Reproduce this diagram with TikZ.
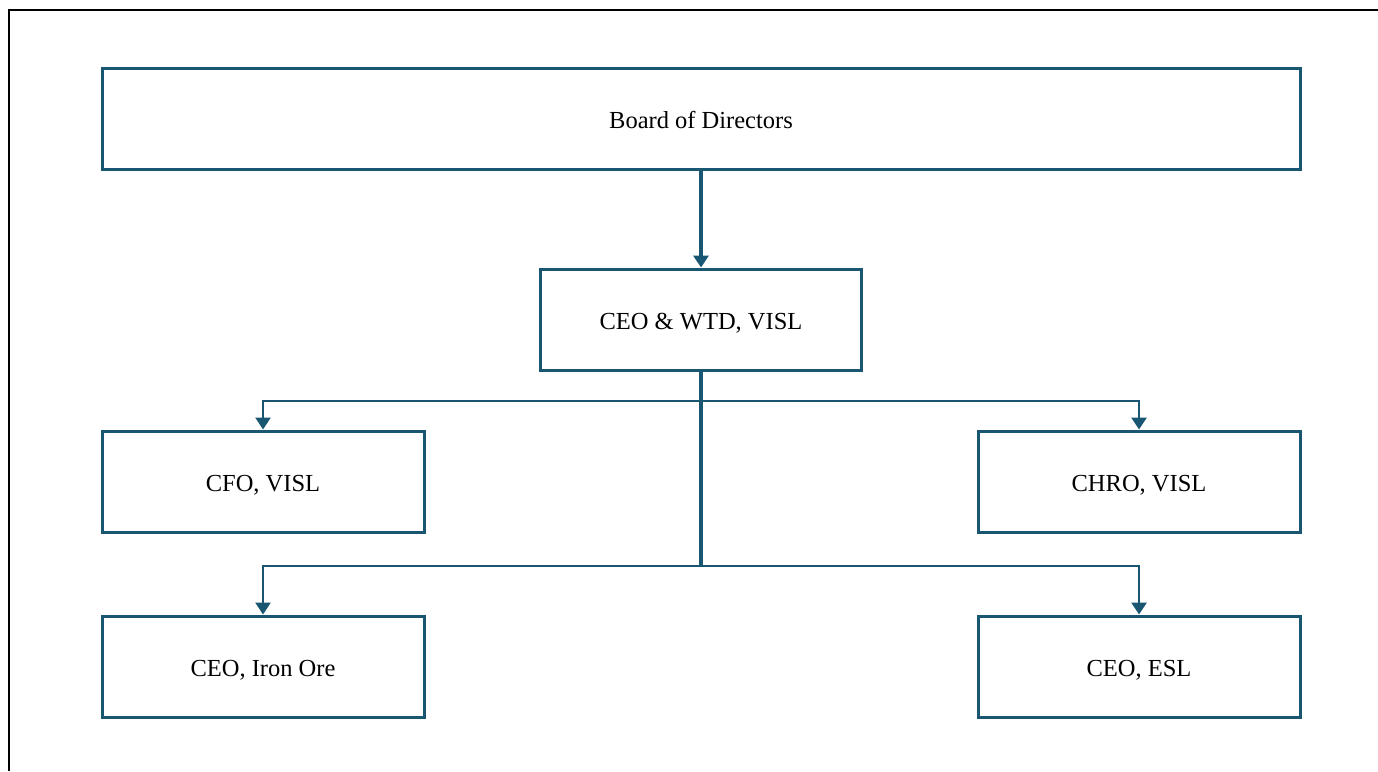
\documentclass[tikz,border=0pt]{standalone}
\usepackage{fontspec}
\setmainfont{Liberation Serif}
\usetikzlibrary{arrows.meta}
\definecolor{teal}{RGB}{24,86,114}
\tikzset{
  box/.style={draw=teal, line width=3pt, fill=white, inner sep=0pt, text height=20.5pt, text depth=0pt, font=\fontsize{24.5}{28}\selectfont},
  conn/.style={draw=teal, line width=2.8pt},
  trunk/.style={draw=teal, line width=4.2pt},
  tip/.style={-{Triangle[length=12pt,width=15pt]}}
}
\begin{document}
\begin{tikzpicture}[x=1pt,y=-1pt]
\useasboundingbox (0,0) rectangle (1378,771);
\draw[black, line width=1.2pt] (1378,10) -- (9,10) -- (9,771);
\node[box, minimum width=1198pt, minimum height=101pt] (bod) at (701,118.5) {Board of Directors};
\node[box, minimum width=321pt, minimum height=101pt] (ceo) at (701,319.5) {CEO \& WTD, VISL};
\node[box, minimum width=322pt, minimum height=101pt] (cfo) at (263,481.5) {CFO, VISL};
\node[box, minimum width=322pt, minimum height=101pt] (chro) at (1139,481.5) {CHRO, VISL};
\node[box, minimum width=322pt, minimum height=101pt] (iron) at (263,666.5) {CEO, Iron Ore};
\node[box, minimum width=322pt, minimum height=101pt] (esl) at (1139,666.5) {CEO, ESL};
\coordinate (j1) at (701,401);
\coordinate (j2) at (701,566);
\draw[trunk, tip] (bod.south) -- (ceo.north);
\draw[conn, tip] (j1) -| (cfo.north);
\draw[conn, tip] (j1) -| (chro.north);
\draw[conn, tip] (j2) -| (iron.north);
\draw[conn, tip] (j2) -| (esl.north);
\draw[trunk] (ceo.south) -- ([yshift=1.4pt]j2);
\end{tikzpicture}
\end{document}
